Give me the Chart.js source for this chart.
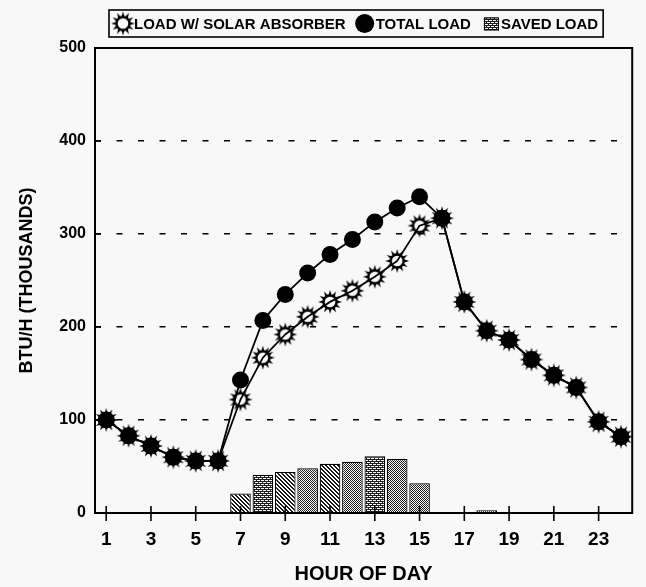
<!DOCTYPE html>
<html>
<head>
<meta charset="utf-8">
<script src="https://cdn.jsdelivr.net/npm/chart.js@4.4.1/dist/chart.umd.min.js"></script>
<style>
  html, body { margin: 0; padding: 0; background: #f8f8f8; }
  #wrap { width: 646px; height: 587px; }
</style>
</head>
<body>
<div id="wrap"><canvas id="chart" width="646" height="587"></canvas></div>
<script>
const HOURS = ["1", "2", "3", "4", "5", "6", "7", "8", "9", "10", "11", "12",
    "13", "14", "15", "16", "17", "18", "19", "20", "21", "22", "23", "24"];

// thousands of BTU/h for each hour
const LOAD_WITH_ABSORBER = [100, 83, 72, 60, 56, 56, 122, 167, 192, 211, 227, 239,
    254, 271, 309, 317, 227, 196, 186, 165, 148, 135, 98, 82];
const TOTAL_LOAD = [100, 83, 72, 60, 56, 56, 143, 207, 235, 258, 278, 294,
    313, 328, 340, 317, 227, 196, 186, 165, 148, 135, 98, 82];
const SAVED_LOAD = [0, 0, 0, 0, 0, 1, 21, 41, 44, 48, 53, 55,
    61, 58, 32, 0, 0, 3, 0, 0, 0, 0, 0, 0];

const Y_MIN = 0;
const Y_MAX = 500;
const Y_STEP = 100;

// hatch used on each saved-load bar
const BAR_HATCH = ["check", "check", "check", "check", "check", "check", "diag", "cross", "diag", "check", "diag", "check",
    "cross", "check", "check", "check", "check", "check", "check", "check", "check", "check", "check", "check"];

const FONT = '"Liberation Sans", Arial, Helvetica, sans-serif';

function makePattern(kind) {
    const c = document.createElement("canvas");
    c.width = 4;
    c.height = 4;
    const g = c.getContext("2d");
    g.fillStyle = "#fff";
    g.fillRect(0, 0, 4, 4);
    g.fillStyle = "#1a1a1a";
    for (let x = 0; x < 4; x++) {
        for (let y = 0; y < 4; y++) {
            let on;
            if (kind === "diag") on = (x - y + 4) % 4 < 2;
            else if (kind === "cross") on = (x - y + 4) % 4 === 0 || (x + y) % 4 === 0 || (x + y) % 2 === 1 && x % 2 === 0;
            else on = (x + y) % 2 === 0;
            if (on) g.fillRect(x, y, 1, 1);
        }
    }
    return g.createPattern(c, "repeat");
}

function makeSun() {
    const c = document.createElement("canvas");
    c.width = 26;
    c.height = 26;
    const g = c.getContext("2d");
    const cx = 13, cy = 13;
    g.fillStyle = "#000";
    g.strokeStyle = "#000";
    for (let k = 0; k < 12; k++) {
        const a = k * Math.PI / 6;
        g.beginPath();
        g.moveTo(cx + Math.cos(a - 0.26) * 6.5, cy + Math.sin(a - 0.26) * 6.5);
        g.lineTo(cx + Math.cos(a) * 12, cy + Math.sin(a) * 12);
        g.lineTo(cx + Math.cos(a + 0.26) * 6.5, cy + Math.sin(a + 0.26) * 6.5);
        g.closePath();
        g.fill();
    }
    g.lineWidth = 2.4;
    g.beginPath();
    g.arc(cx, cy, 6.5, 0, Math.PI * 2);
    g.stroke();
    return c;
}

const sun = makeSun();
const hatches = {
    diag: makePattern("diag"),
    cross: makePattern("cross"),
    check: makePattern("check"),
};

// plot frame plus tick marks that cross the axes
const framePlugin = {
    id: "frame",
    afterDatasetsDraw(chart) {
        const { ctx, chartArea: a, scales } = chart;
        ctx.save();
        ctx.strokeStyle = "#000";
        ctx.lineWidth = 1.6;
        scales.x.ticks.forEach((t, i) => {
            if (i % 2 !== 0) return;
            const px = scales.x.getPixelForTick(i);
            ctx.beginPath();
            ctx.moveTo(px, a.bottom - 7);
            ctx.lineTo(px, a.bottom + 8);
            ctx.stroke();
        });
        scales.y.ticks.forEach(t => {
            if (t.value === Y_MIN || t.value === Y_MAX) return;
            const py = scales.y.getPixelForValue(t.value);
            ctx.beginPath();
            ctx.moveTo(a.left, py);
            ctx.lineTo(a.left + 6, py);
            ctx.stroke();
        });
        ctx.lineWidth = 2;
        ctx.strokeRect(a.left, a.top, a.right - a.left, a.bottom - a.top);
        ctx.restore();
    },
};

// boxed legend across the top
const legendPlugin = {
    id: "boxLegend",
    afterDraw(chart) {
        const { ctx } = chart;
        const sets = chart.data.datasets;
        const left = 109, top = 10, height = 27;
        const mid = top + height / 2;
        ctx.save();
        ctx.font = `bold 15px ${FONT}`;
        ctx.textBaseline = "middle";
        ctx.fillStyle = "#000";
        let x = left + 3;

        ctx.drawImage(sun, x - 2, mid - 13);
        x += 22;
        ctx.fillText(sets[0].label, x, mid + 1.5);
        x += ctx.measureText(sets[0].label).width + 10;

        ctx.beginPath();
        ctx.arc(x + 9, mid, 9.5, 0, Math.PI * 2);
        ctx.fill();
        x += 20;
        ctx.fillText(sets[1].label, x, mid + 1.5);
        x += ctx.measureText(sets[1].label).width + 13;

        ctx.fillStyle = hatches.cross;
        ctx.fillRect(x, mid - 6, 15, 13);
        ctx.lineWidth = 1;
        ctx.strokeRect(x + 0.5, mid - 5.5, 14, 12);
        ctx.fillStyle = "#000";
        x += 17;
        ctx.fillText(sets[2].label, x, mid + 1.5);
        x += ctx.measureText(sets[2].label).width + 5;

        ctx.lineWidth = 1.6;
        ctx.strokeRect(left, top, x - left, height);
        ctx.restore();
    },
};

Chart.defaults.font.family = FONT;
Chart.defaults.font.size = 15;
Chart.defaults.font.weight = "bold";
Chart.defaults.color = "#000";

new Chart("chart", {
    data: {
        labels: HOURS,
        datasets: [
            {
                type: "line",
                label: "LOAD W/ SOLAR ABSORBER",
                data: LOAD_WITH_ABSORBER,
                borderColor: "#000",
                borderWidth: 1.8,
                pointStyle: sun,
                pointRadius: 12,
                tension: 0,
                order: 0,
            },
            {
                type: "line",
                label: "TOTAL LOAD",
                data: TOTAL_LOAD,
                borderColor: "#000",
                borderWidth: 1.8,
                pointStyle: "circle",
                pointRadius: 8.5,
                pointBackgroundColor: "#000",
                pointBorderWidth: 0,
                tension: 0,
                order: 1,
            },
            {
                type: "bar",
                label: "SAVED LOAD",
                data: SAVED_LOAD,
                backgroundColor: BAR_HATCH.map(k => hatches[k]),
                borderColor: "#000",
                borderWidth: 1.2,
                barPercentage: 0.92,
                categoryPercentage: 1,
                order: 2,
            },
        ],
    },
    options: {
        responsive: false,
        animation: false,
        layout: { padding: { top: 48, right: 7, left: 0, bottom: 0 } },
        plugins: {
            legend: { display: false },
            tooltip: { enabled: false },
        },
        scales: {
            x: {
                type: "category",
                offset: true,
                grid: { display: false, drawTicks: false },
                border: { display: false },
                ticks: {
                    autoSkip: false,
                    maxRotation: 0,
                    padding: 15,
                    font: { size: 19 },
                    callback: (v, i) => (i % 2 === 0 ? HOURS[i] : ""),
                },
                title: {
                    display: true,
                    text: "HOUR OF DAY",
                    font: { size: 20 },
                    padding: { top: 0, bottom: 1 },
                },
                afterFit: s => { s.height = 74; },
            },
            y: {
                min: Y_MIN,
                max: Y_MAX,
                ticks: { stepSize: Y_STEP, padding: 9, font: { size: 16 } },
                grid: {
                    drawTicks: false,
                    lineWidth: 1.5,
                    color: c => (c.tick.value === Y_MIN || c.tick.value === Y_MAX ? "rgba(0,0,0,0)" : "#000"),
                },
                border: { display: false, dash: [6, 15.5] },
                title: {
                    display: true,
                    text: "BTU/H (THOUSANDS)",
                    font: { size: 18 },
                    padding: { top: 16, bottom: 0 },
                },
                afterFit: s => { s.width = 95; },
            },
        },
    },
    plugins: [framePlugin, legendPlugin],
});
</script>
</body>
</html>
